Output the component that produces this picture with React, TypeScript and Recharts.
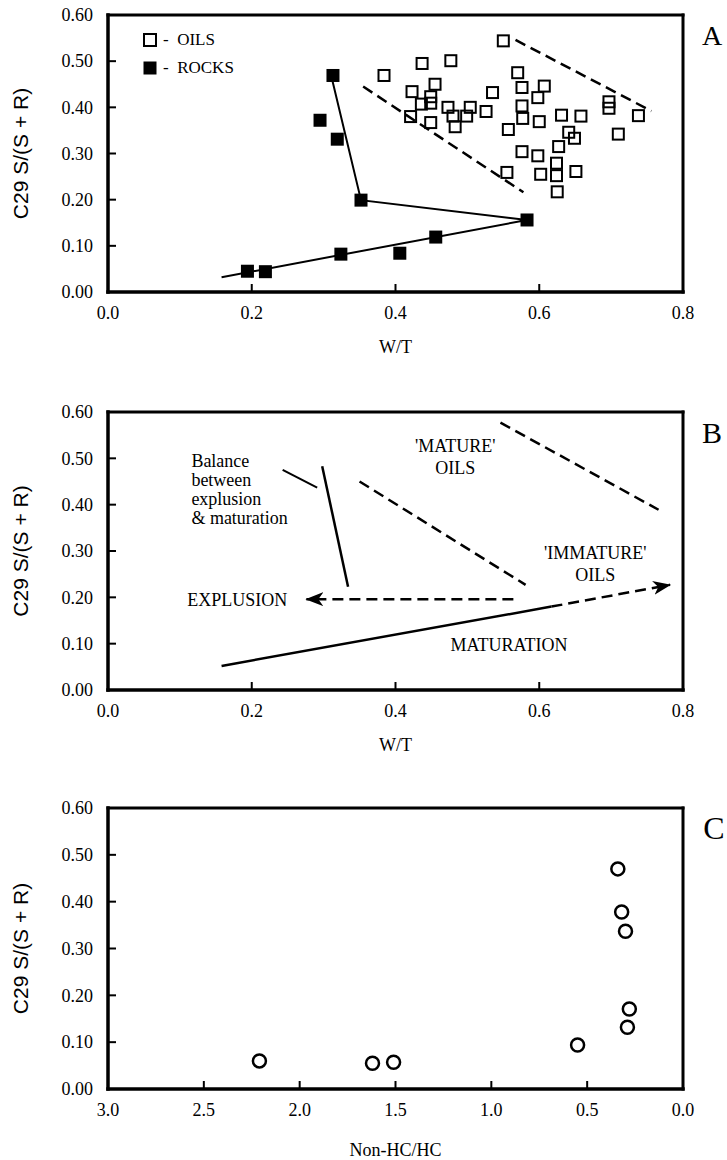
import React from "react";
import { ScatterChart, Scatter, XAxis, YAxis, ReferenceLine, Legend, Label } from "recharts";

const SERIF = '"Liberation Serif", "Times New Roman", serif';
const SANS = '"Liberation Sans", Arial, sans-serif';

const Y_TICKS = [0, 0.1, 0.2, 0.3, 0.4, 0.5, 0.6];
const WT_TICKS = [0, 0.2, 0.4, 0.6, 0.8];
const RATIO_TICKS = [0, 0.5, 1, 1.5, 2, 2.5, 3];
const LEGEND_ITEMS = ["OILS", "ROCKS"];
const Y_TITLE = "C29 S/(S + R)";

// panel A - oils and rocks, W/T vs C29 S/(S+R)
const OILS = [
  { x: 0.55, y: 0.544 }, { x: 0.384, y: 0.469 }, { x: 0.437, y: 0.495 }, { x: 0.477, y: 0.501 },
  { x: 0.57, y: 0.475 }, { x: 0.455, y: 0.45 }, { x: 0.423, y: 0.434 }, { x: 0.449, y: 0.423 },
  { x: 0.449, y: 0.409 }, { x: 0.576, y: 0.443 }, { x: 0.607, y: 0.446 }, { x: 0.598, y: 0.421 },
  { x: 0.535, y: 0.432 }, { x: 0.473, y: 0.4 }, { x: 0.504, y: 0.4 }, { x: 0.526, y: 0.391 },
  { x: 0.48, y: 0.381 }, { x: 0.499, y: 0.381 }, { x: 0.421, y: 0.38 }, { x: 0.449, y: 0.367 },
  { x: 0.483, y: 0.358 }, { x: 0.576, y: 0.403 }, { x: 0.577, y: 0.376 }, { x: 0.6, y: 0.369 },
  { x: 0.557, y: 0.352 }, { x: 0.631, y: 0.383 }, { x: 0.658, y: 0.381 }, { x: 0.697, y: 0.412 },
  { x: 0.697, y: 0.398 }, { x: 0.738, y: 0.382 }, { x: 0.71, y: 0.342 }, { x: 0.641, y: 0.346 },
  { x: 0.649, y: 0.333 }, { x: 0.576, y: 0.304 }, { x: 0.598, y: 0.295 }, { x: 0.627, y: 0.315 },
  { x: 0.624, y: 0.279 }, { x: 0.555, y: 0.259 }, { x: 0.602, y: 0.255 }, { x: 0.624, y: 0.252 },
  { x: 0.651, y: 0.261 }, { x: 0.625, y: 0.217 }, { x: 0.436, y: 0.407 },
];
const ROCKS = [
  { x: 0.194, y: 0.045 }, { x: 0.219, y: 0.044 }, { x: 0.324, y: 0.082 }, { x: 0.406, y: 0.084 },
  { x: 0.456, y: 0.119 }, { x: 0.583, y: 0.156 }, { x: 0.352, y: 0.199 }, { x: 0.319, y: 0.331 },
  { x: 0.295, y: 0.372 }, { x: 0.313, y: 0.469 },
];
const ROCK_TREND = [
  { x: 0.158, y: 0.032 }, { x: 0.583, y: 0.156 }, { x: 0.352, y: 0.199 }, { x: 0.31, y: 0.472 },
];
const OIL_BOUND_UPPER = [{ x: 0.567, y: 0.546 }, { x: 0.756, y: 0.392 }];
const OIL_BOUND_LOWER = [{ x: 0.355, y: 0.445 }, { x: 0.578, y: 0.216 }];

// panel B - interpretation
const MATURATION_SOLID = [{ x: 0.158, y: 0.052 }, { x: 0.617, y: 0.18 }];
const MATURATION_ARROW = [{ x: 0.617, y: 0.18 }, { x: 0.782, y: 0.227 }];
const EXPULSION_ARROW = [{ x: 0.564, y: 0.196 }, { x: 0.276, y: 0.196 }];
const BALANCE_LINE = [{ x: 0.298, y: 0.483 }, { x: 0.334, y: 0.223 }];
const BALANCE_POINTER = [{ x: 0.243, y: 0.475 }, { x: 0.291, y: 0.437 }];
const IMMATURE_BOUND = [{ x: 0.35, y: 0.45 }, { x: 0.581, y: 0.227 }];
const MATURE_BOUND = [{ x: 0.546, y: 0.577 }, { x: 0.766, y: 0.389 }];
const NOTES = [
  { x: 0.483, y: 0.503, text: ["'MATURE'", "OILS"] },
  { x: 0.678, y: 0.272, text: ["'IMMATURE'", "OILS"] },
  { x: 0.18, y: 0.194, text: ["EXPLUSION"] },
  { x: 0.558, y: 0.097, text: ["MATURATION"] },
];
const BALANCE_NOTE = [{ x: 0.116, y: 0.434, text: ["Balance", "between", "explusion", "& maturation"] }];

// panel C - Non-HC/HC vs C29 S/(S+R)
const NONHC_SAMPLES = [
  { x: 2.21, y: 0.06 }, { x: 1.62, y: 0.055 }, { x: 1.51, y: 0.057 }, { x: 0.55, y: 0.094 },
  { x: 0.34, y: 0.47 }, { x: 0.32, y: 0.378 }, { x: 0.3, y: 0.337 }, { x: 0.28, y: 0.171 },
  { x: 0.29, y: 0.132 },
];

const W = 727;
const MARGIN = { top: 15, right: 44, bottom: 0, left: 0 };
const DASH = "11 6";

// <line> elements did not show up, so every straight stroke is a path
function XTick({ x, y, payload }: any) {
  return (
    <g>
      <path d={`M${x},${y}V${y - 8}`} stroke="#000" strokeWidth={2} fill="none" />
      <text x={x} y={y + 27} textAnchor="middle" fontFamily={SERIF} fontSize={18} fill="#000">
        {Number(payload.value).toFixed(1)}
      </text>
    </g>
  );
}

function YTick({ x, y, payload }: any) {
  return (
    <g>
      <path d={`M${x},${y}H${x + 8}`} stroke="#000" strokeWidth={2} fill="none" />
      <text x={x - 15} y={y} dy="0.35em" textAnchor="end" fontFamily={SERIF} fontSize={18} fill="#000">
        {Number(payload.value).toFixed(2)}
      </text>
    </g>
  );
}

const FrameEdge = (p: any) => (
  <path d={`M${p.x1},${p.y1}L${p.x2},${p.y2}`} stroke="#000" strokeWidth={p.strokeWidth}
    strokeLinecap="square" fill="none" />
);

const OpenSquare = ({ cx, cy }: any) => (
  <rect x={cx - 5.5} y={cy - 5.5} width={11} height={11} fill="none" stroke="#000" strokeWidth={2} />
);
const FilledSquare = ({ cx, cy }: any) => <rect x={cx - 6.5} y={cy - 6.5} width={13} height={13} fill="#000" />;
const OpenCircle = ({ cx, cy }: any) => (
  <circle cx={cx} cy={cy} r={6.5} fill="none" stroke="#000" strokeWidth={2.5} />
);
const NoMark = () => <g />;

const CenteredNote = ({ cx, cy, payload }: any) => {
  const lines: string[] = payload.text;
  const y0 = cy - ((lines.length - 1) * 22) / 2;
  return (
    <text textAnchor="middle" fontFamily={SERIF} fontSize={18} fill="#000">
      {lines.map((t, i) => (
        <tspan key={i} x={cx} y={y0 + i * 22} dy="0.35em">{t}</tspan>
      ))}
    </text>
  );
};

const LeftNote = ({ cx, cy, payload }: any) => {
  const lines: string[] = payload.text;
  const y0 = cy - ((lines.length - 1) * 19) / 2;
  return (
    <text textAnchor="start" fontFamily={SERIF} fontSize={18} fill="#000">
      {lines.map((t, i) => (
        <tspan key={i} x={cx} y={y0 + i * 19} dy="0.35em">{t}</tspan>
      ))}
    </text>
  );
};

const OilRockLegend = () => (
  <div style={{ fontFamily: SERIF, fontSize: 17, color: "#000", textAlign: "left" }}>
    {LEGEND_ITEMS.map((name, i) => (
      <div key={name} style={{ display: "flex", alignItems: "center", height: 20, marginBottom: 8 }}>
        <svg width={14} height={14}>
          {i === 0 ? (
            <rect x={1} y={1} width={12} height={12} fill="none" stroke="#000" strokeWidth={2} />
          ) : (
            <rect x={0.5} y={0.5} width={13} height={13} fill="#000" />
          )}
        </svg>
        <span style={{ marginLeft: 6, whiteSpace: "pre" }}>{"-  " + name}</span>
      </div>
    ))}
  </div>
);

const yTitle = (
  <Label
    value={Y_TITLE}
    angle={-90}
    position="insideLeft"
    offset={21}
    style={{ textAnchor: "middle", fontFamily: SANS, fontSize: 21, fill: "#000" }}
  />
);

const xTitle = (text: string, offset: number) => (
  <Label value={text} position="insideBottom" offset={offset}
    style={{ fontFamily: SERIF, fontSize: 18, fill: "#000" }} />
);

function PanelA() {
  return (
    <ScatterChart width={W} height={365} margin={MARGIN}>
      <XAxis type="number" dataKey="x" domain={[0, 0.8]} ticks={WT_TICKS} interval={0} height={73}
        axisLine={false} tickLine={false} tickSize={0} tickMargin={0} tick={XTick}>
        {xTitle("W/T", 12)}
      </XAxis>
      <YAxis type="number" dataKey="y" domain={[0, 0.6]} ticks={Y_TICKS} interval={0} width={108}
        axisLine={false} tickLine={false} tickSize={0} tickMargin={0} tick={YTick}>
        {yTitle}
      </YAxis>
      <ReferenceLine y={0} strokeWidth={3.5} shape={FrameEdge} />
      <ReferenceLine x={0} strokeWidth={3.5} shape={FrameEdge} />
      <ReferenceLine y={0.6} strokeWidth={3} shape={FrameEdge} />
      <ReferenceLine x={0.8} strokeWidth={3} shape={FrameEdge} />
      <Legend layout="horizontal" verticalAlign="middle" align="center"
        wrapperStyle={{ top: 30, left: 143, width: 150, height: 56 }} content={() => <OilRockLegend />} />
      <Scatter name="oil bound upper" data={OIL_BOUND_UPPER} shape={NoMark} legendType="none"
        line={{ stroke: "#000", strokeWidth: 2.5, strokeDasharray: DASH }} isAnimationActive={false} />
      <Scatter name="oil bound lower" data={OIL_BOUND_LOWER} shape={NoMark} legendType="none"
        line={{ stroke: "#000", strokeWidth: 2.5, strokeDasharray: DASH }} isAnimationActive={false} />
      <Scatter name="rock trend" data={ROCK_TREND} shape={NoMark} legendType="none"
        line={{ stroke: "#000", strokeWidth: 2 }} isAnimationActive={false} />
      <Scatter name="OILS" data={OILS} shape={OpenSquare} isAnimationActive={false} />
      <Scatter name="ROCKS" data={ROCKS} shape={FilledSquare} isAnimationActive={false} />
    </ScatterChart>
  );
}

function PanelB() {
  const arrowLine = { stroke: "#000", strokeWidth: 2.5, strokeDasharray: DASH, markerEnd: "url(#arrowHead)" };
  return (
    <ScatterChart width={W} height={366} margin={MARGIN}>
      <XAxis type="number" dataKey="x" domain={[0, 0.8]} ticks={WT_TICKS} interval={0} height={73}
        axisLine={false} tickLine={false} tickSize={0} tickMargin={0} tick={XTick}>
        {xTitle("W/T", 12)}
      </XAxis>
      <YAxis type="number" dataKey="y" domain={[0, 0.6]} ticks={Y_TICKS} interval={0} width={108}
        axisLine={false} tickLine={false} tickSize={0} tickMargin={0} tick={YTick}>
        {yTitle}
      </YAxis>
      <ReferenceLine y={0} strokeWidth={3.5} shape={FrameEdge} />
      <ReferenceLine x={0} strokeWidth={3.5} shape={FrameEdge} />
      <ReferenceLine y={0.6} strokeWidth={3} shape={FrameEdge} />
      <ReferenceLine x={0.8} strokeWidth={3} shape={FrameEdge} />
      <Scatter data={MATURATION_SOLID} shape={NoMark} legendType="none"
        line={{ stroke: "#000", strokeWidth: 2.5 }} isAnimationActive={false} />
      <Scatter data={MATURATION_ARROW} shape={NoMark} legendType="none" line={arrowLine} isAnimationActive={false} />
      <Scatter data={EXPULSION_ARROW} shape={NoMark} legendType="none" line={arrowLine} isAnimationActive={false} />
      <Scatter data={BALANCE_LINE} shape={NoMark} legendType="none"
        line={{ stroke: "#000", strokeWidth: 2.5 }} isAnimationActive={false} />
      <Scatter data={BALANCE_POINTER} shape={NoMark} legendType="none"
        line={{ stroke: "#000", strokeWidth: 2 }} isAnimationActive={false} />
      <Scatter data={IMMATURE_BOUND} shape={NoMark} legendType="none"
        line={{ stroke: "#000", strokeWidth: 2.5, strokeDasharray: DASH }} isAnimationActive={false} />
      <Scatter data={MATURE_BOUND} shape={NoMark} legendType="none"
        line={{ stroke: "#000", strokeWidth: 2.5, strokeDasharray: DASH }} isAnimationActive={false} />
      <Scatter data={NOTES} shape={CenteredNote} legendType="none" isAnimationActive={false} />
      <Scatter data={BALANCE_NOTE} shape={LeftNote} legendType="none" isAnimationActive={false} />
    </ScatterChart>
  );
}

function PanelC() {
  return (
    <ScatterChart width={W} height={367} margin={MARGIN}>
      <XAxis type="number" dataKey="x" domain={[0, 3]} reversed ticks={RATIO_TICKS} interval={0} height={71}
        axisLine={false} tickLine={false} tickSize={0} tickMargin={0} tick={XTick}>
        {xTitle("Non-HC/HC", 4)}
      </XAxis>
      <YAxis type="number" dataKey="y" domain={[0, 0.6]} ticks={Y_TICKS} interval={0} width={108}
        axisLine={false} tickLine={false} tickSize={0} tickMargin={0} tick={YTick}>
        {yTitle}
      </YAxis>
      <ReferenceLine y={0} strokeWidth={3.5} shape={FrameEdge} />
      <ReferenceLine x={3} strokeWidth={3.5} shape={FrameEdge} />
      <ReferenceLine y={0.6} strokeWidth={3} shape={FrameEdge} />
      <ReferenceLine x={0} strokeWidth={3} shape={FrameEdge} />
      <Scatter name="samples" data={NONHC_SAMPLES} shape={OpenCircle} isAnimationActive={false} />
    </ScatterChart>
  );
}

const PanelLetter = ({ text, x, y, size }: { text: string; x: number; y: number; size: number }) => (
  <div style={{ position: "absolute", left: x, top: y, transform: "translate(-50%, -50%)",
    fontFamily: SERIF, fontSize: size, lineHeight: 1, color: "#000" }}>
    {text}
  </div>
);

export default function App() {
  return (
    <div style={{ position: "absolute", left: 0, top: 0, width: 727, height: 1160, background: "#fff", overflow: "hidden" }}>
      <svg width={0} height={0} style={{ position: "absolute" }}>
        <defs>
          <marker id="arrowHead" viewBox="0 0 18 14" markerWidth={18} markerHeight={14} refX={17} refY={7}
            orient="auto" markerUnits="userSpaceOnUse">
            <path d="M0,0 L18,7 L0,14 L5,7 Z" fill="#000" />
          </marker>
        </defs>
      </svg>
      <div style={{ position: "absolute", left: 0, top: 0 }}><PanelA /></div>
      <div style={{ position: "absolute", left: 0, top: 397 }}><PanelB /></div>
      <div style={{ position: "absolute", left: 0, top: 793 }}><PanelC /></div>
      <PanelLetter text="A" x={712} y={36} size={28} />
      <PanelLetter text="B" x={712} y={433} size={30} />
      <PanelLetter text="C" x={714} y={828} size={32} />
    </div>
  );
}
